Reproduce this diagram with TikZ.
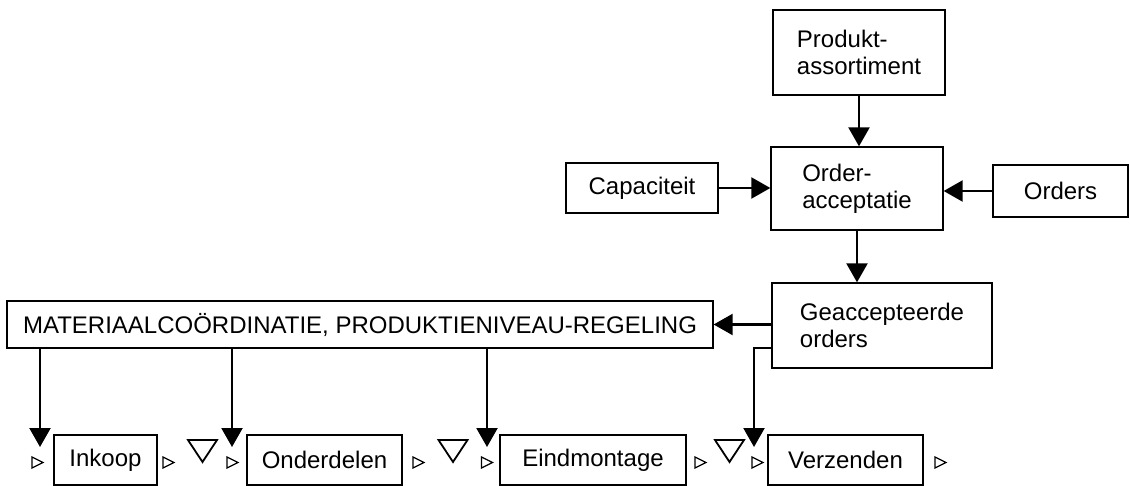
\documentclass[tikz,border=0pt]{standalone}
\usepackage{fontspec}
\setmainfont{Liberation Sans}
\usetikzlibrary{arrows.meta}

\begin{document}
\begin{tikzpicture}[x=1pt, y=-1pt, font=\fontsize{24}{27}\selectfont]
    \useasboundingbox (0,0) rectangle (1130,486);

    \begin{scope}[every node/.style={draw, line width=1.3pt, inner sep=0pt, align=left}]
        \node[minimum width=172pt, minimum height=85pt] (prod) at (859,52.5) {Produkt-\\assortiment};
        \node[minimum width=172pt, minimum height=83pt] (order) at (857,188.5) {Order-\\acceptatie};
        \node[minimum width=152pt, minimum height=50pt] (cap) at (642,188) {Capaciteit};
        \node[minimum width=135pt, minimum height=52pt] (orders) at (1060.5,191) {Orders};
        \node[minimum width=220pt, minimum height=85pt] (geacc) at (882,325.5) {Geaccepteerde\\orders};
        \node[minimum width=706pt, minimum height=47pt] (mat) at (360,324.5) {MATERIAALCOÖRDINATIE, PRODUKTIENIVEAU-REGELING};
        \node[minimum width=103pt, minimum height=50pt] (inkoop) at (105.5,460) {Inkoop};
        \node[minimum width=155pt, minimum height=50pt] (onder) at (324.5,460) {Onderdelen};
        \node[minimum width=186pt, minimum height=50pt] (eind) at (593,460) {Eindmontage};
        \node[minimum width=155pt, minimum height=50pt] (verz) at (845.5,460) {Verzenden};
    \end{scope}

    % ends of the control arrows
    \coordinate (v1) at (40,447);
    \coordinate (v2) at (232,447);
    \coordinate (v3) at (487,447);
    \coordinate (v4) at (754,447);

    \begin{scope}[>={Triangle[length=19pt,width=21pt]}, line width=2.2pt]
        \draw [->] (prod.south) -- (prod.south |- order.north);
        \draw [->] (cap) -- (cap -| order.west);
        \draw [->] (orders) -- (orders -| order.east);
        \draw [->] (order.south) -- (order.south |- geacc.north);
        \draw [->] (geacc.west |- mat.east) -- (mat.east);
        \draw [->] ([yshift=-22.5pt]geacc.west) -| (v4);
        \draw [->] (mat.south -| v1) -- (v1);
        \draw [->] (mat.south -| v2) -- (v2);
        \draw [->] (mat.south -| v3) -- (v3);
    \end{scope}

    % flow marks
    \foreach \x in {37,168,232,418,486.5,700,757,940}
        \draw[line width=1.3pt] (\x-5,457) -- (\x+6,462.5) -- (\x-5,468) -- cycle;
    \foreach \x in {202.5,453,729.5}
        \draw[line width=1.8pt] (\x-14.5,440) -- (\x+14.5,440) -- (\x,462) -- cycle;
\end{tikzpicture}
\end{document}
